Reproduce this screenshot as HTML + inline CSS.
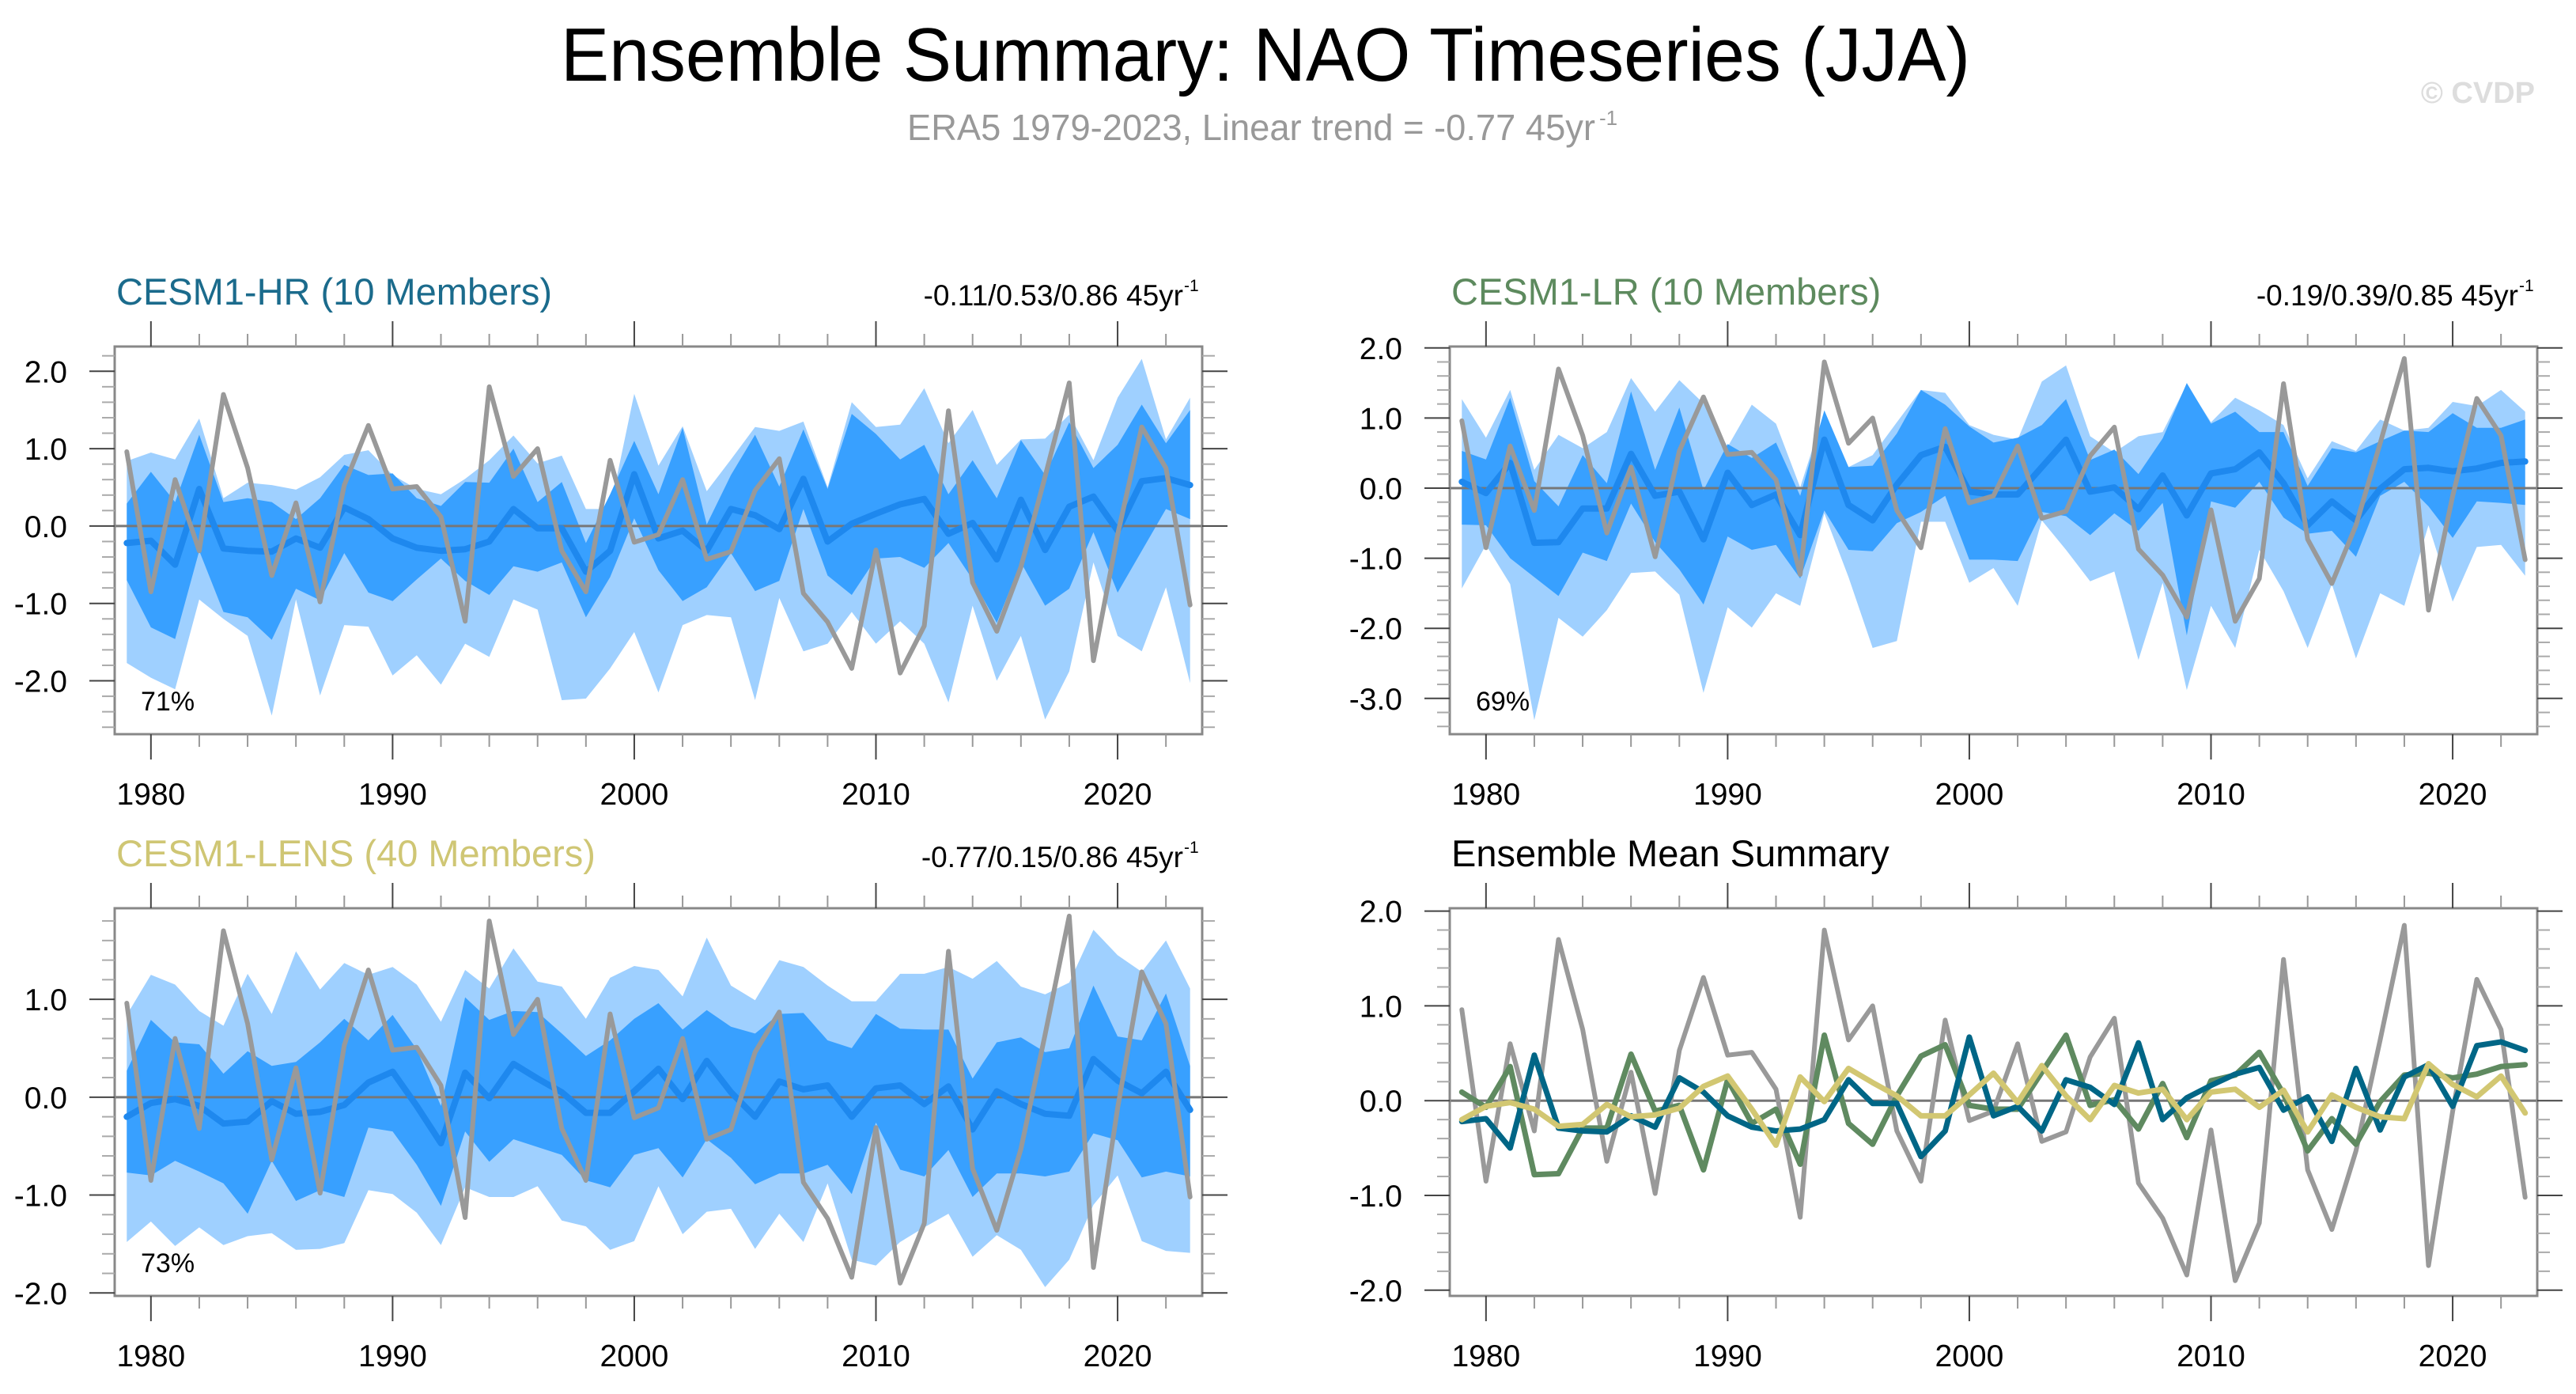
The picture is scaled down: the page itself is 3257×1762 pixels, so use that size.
<!DOCTYPE html>
<html><head><meta charset="utf-8"><style>
html,body{margin:0;padding:0;background:#fff;}
svg{display:block;font-family:"Liberation Sans",sans-serif;}
</style></head><body>
<svg id="chart" width="3257" height="1762" viewBox="0 0 3257 1762" xmlns="http://www.w3.org/2000/svg">
<text x="1600" y="102" font-size="96" text-anchor="middle" textLength="1782" lengthAdjust="spacingAndGlyphs" fill="#000">Ensemble Summary: NAO Timeseries (JJA)</text>
<text x="1147" y="177" font-size="46" fill="#999" textLength="870" lengthAdjust="spacingAndGlyphs">ERA5 1979-2023, Linear trend = -0.77 45yr</text>
<text x="2022" y="158" font-size="26" fill="#999">-1</text>
<text x="3205" y="130" font-size="38" fill="#ddd" font-weight="bold" text-anchor="end">© CVDP</text>
<g id="plots"></g>
</svg>
<script>
const years = [];
for (let y = 1979; y <= 2023; y++) years.push(y);
const era5 = [0.96,-0.85,0.60,-0.32,1.70,0.75,-0.64,0.30,-0.98,0.53,1.30,0.48,0.51,0.12,-1.23,1.80,0.64,1.00,-0.32,-0.85,0.85,-0.21,-0.11,0.60,-0.43,-0.33,0.46,0.87,-0.87,-1.24,-1.84,-0.31,-1.90,-1.29,1.49,-0.73,-1.36,-0.53,0.64,1.85,-1.74,-0.11,1.28,0.75,-1.02];
const hrMean = [-0.22,-0.19,-0.50,0.48,-0.29,-0.32,-0.33,-0.16,-0.28,0.24,0.09,-0.16,-0.28,-0.32,-0.30,-0.20,0.22,-0.03,-0.03,-0.59,-0.32,0.67,-0.16,-0.06,-0.32,0.22,0.14,-0.04,0.61,-0.20,0.03,0.16,0.28,0.35,-0.10,0.04,-0.43,0.34,-0.31,0.25,0.38,-0.06,0.58,0.62,0.53];
const hrUpLight = [0.84,0.95,0.86,1.39,0.36,0.56,0.53,0.47,0.63,0.92,0.98,0.66,0.48,0.41,0.61,0.85,1.17,0.81,0.91,0.22,0.22,1.71,0.78,1.29,0.45,0.86,1.28,1.23,1.35,0.50,1.60,1.28,1.31,1.78,1.07,1.50,0.79,1.12,1.13,1.44,0.85,1.66,2.16,1.12,1.66];
const hrUpDark = [0.29,0.70,0.31,1.18,0.31,0.36,0.31,0.09,0.36,0.79,0.66,0.68,0.36,0.26,0.57,0.56,1.00,0.31,0.57,-0.22,0.41,1.10,0.41,1.27,0.02,0.66,1.18,0.51,1.25,0.48,1.45,1.19,0.86,1.05,0.41,0.85,0.36,1.11,0.66,1.34,0.75,1.05,1.57,1.07,1.50];
const hrLoDark = [-0.70,-1.31,-1.46,-0.32,-1.11,-1.18,-1.47,-0.81,-0.96,-0.35,-0.86,-0.97,-0.69,-0.42,-0.71,-0.89,-0.52,-0.59,-0.47,-1.18,-0.66,0.10,-0.57,-0.97,-0.79,-0.35,-0.84,-0.71,0.22,-0.64,-0.89,-0.42,-0.40,-0.54,-0.22,-0.69,-1.25,-0.47,-1.03,-0.81,-0.08,-0.86,-0.32,0.22,0.09];
const hrLoLight = [-1.77,-1.96,-2.11,-0.95,-1.20,-1.42,-2.45,-0.95,-2.19,-1.28,-1.30,-1.93,-1.67,-2.05,-1.52,-1.69,-0.95,-1.08,-2.25,-2.23,-1.84,-1.37,-2.15,-1.28,-1.15,-1.18,-2.25,-0.93,-1.62,-1.52,-1.11,-1.52,-1.23,-1.52,-2.28,-1.03,-2.00,-1.42,-2.50,-1.88,-0.47,-1.42,-1.62,-0.79,-2.03];
const lrMean = [0.09,-0.07,0.36,-0.78,-0.77,-0.29,-0.29,0.49,-0.11,-0.05,-0.73,0.22,-0.24,-0.09,-0.67,0.69,-0.24,-0.46,0.05,0.47,0.59,-0.05,-0.09,-0.09,0.30,0.69,-0.05,0.01,-0.30,0.18,-0.39,0.21,0.27,0.51,0.07,-0.53,-0.19,-0.46,-0.01,0.27,0.29,0.24,0.28,0.36,0.38];
const lrUpLight = [1.27,0.72,1.40,0.26,0.76,0.57,0.80,1.57,1.09,1.54,1.21,0.59,1.19,0.92,0.01,1.09,0.30,0.47,0.94,1.40,1.36,0.90,0.76,0.69,1.52,1.75,0.74,0.51,0.74,0.80,1.48,0.94,1.29,1.11,0.90,0.14,0.67,0.53,0.98,0.82,0.86,1.23,1.17,1.40,1.09];
const lrUpDark = [0.53,0.41,1.29,0.10,-0.26,0.47,0.07,1.38,0.26,1.15,-0.03,0.63,0.43,0.65,-0.11,1.11,0.30,0.32,0.78,1.40,1.19,0.88,0.65,0.72,0.90,1.27,0.40,0.55,0.20,0.71,1.50,0.92,1.09,0.80,0.80,0.03,0.57,0.51,0.67,0.82,0.80,1.07,0.86,0.86,0.98];
const lrLoDark = [-0.52,-0.53,-1.00,-1.27,-1.54,-0.92,-1.04,-0.22,-0.77,-1.16,-1.66,-0.69,-0.88,-0.81,-1.29,-0.32,-0.88,-0.90,-0.50,-0.34,-0.11,-1.02,-1.02,-1.04,-0.34,-0.40,-0.67,-0.36,-0.61,-0.21,-2.10,-0.19,-0.28,0.09,-0.42,-0.65,-0.61,-0.98,-0.11,0.09,-0.26,-0.71,-0.19,-0.21,-0.24];
const lrLoLight = [-1.43,-0.81,-1.37,-3.31,-1.85,-2.12,-1.74,-1.21,-1.19,-1.52,-2.92,-1.70,-1.99,-1.50,-1.68,-0.36,-1.27,-2.28,-2.18,-0.48,-0.48,-1.35,-1.14,-1.68,-0.46,-0.88,-1.33,-1.19,-2.45,-1.35,-2.88,-1.68,-2.28,-0.88,-1.47,-2.28,-1.37,-2.43,-1.50,-1.68,-0.53,-1.62,-0.84,-0.81,-1.25];
const lensMean = [-0.20,-0.06,-0.02,-0.09,-0.27,-0.25,-0.04,-0.17,-0.15,-0.08,0.15,0.26,-0.09,-0.47,0.25,-0.01,0.34,0.19,0.05,-0.16,-0.16,0.06,0.29,-0.02,0.37,0.05,-0.20,0.16,0.08,0.12,-0.20,0.09,0.12,-0.07,0.11,-0.33,0.06,-0.07,-0.17,-0.19,0.39,0.17,0.04,0.26,-0.13];
const lensUpLight = [0.84,1.25,1.15,0.88,0.73,1.26,0.85,1.49,1.10,1.37,1.25,1.33,1.15,0.77,1.30,1.11,1.52,1.18,1.13,0.80,1.22,1.34,1.30,1.03,1.63,1.14,0.99,1.40,1.33,1.14,0.98,0.98,1.26,1.26,1.33,1.21,1.39,1.13,1.05,1.17,1.71,1.45,1.28,1.60,1.11];
const lensUpDark = [0.27,0.79,0.56,0.54,0.24,0.47,0.32,0.36,0.56,0.80,0.58,0.84,0.49,-0.09,1.02,0.79,0.88,0.87,0.65,0.42,0.58,0.80,0.96,0.69,0.89,0.72,0.65,0.85,0.86,0.58,0.50,0.85,0.70,0.69,0.69,0.19,0.56,0.61,0.46,0.50,1.14,0.62,0.58,1.06,0.32];
const lensLoDark = [-0.77,-0.80,-0.65,-0.76,-0.88,-1.19,-0.65,-1.06,-0.95,-1.02,-0.31,-0.35,-0.69,-1.11,-0.35,-0.66,-0.43,-0.51,-0.59,-0.85,-0.92,-0.59,-0.52,-0.82,-0.43,-0.62,-0.89,-0.78,-0.78,-0.69,-0.99,-0.26,-0.74,-0.81,-0.54,-1.02,-0.78,-0.78,-0.81,-0.76,-0.37,-0.44,-0.82,-0.76,-0.81];
const lensLoLight = [-1.48,-1.27,-1.52,-1.33,-1.51,-1.42,-1.39,-1.56,-1.55,-1.49,-0.95,-0.99,-1.18,-1.51,-0.92,-1.02,-1.02,-0.91,-1.26,-1.32,-1.56,-1.47,-0.91,-1.40,-1.17,-1.14,-1.55,-1.19,-1.48,-0.88,-1.66,-1.72,-1.48,-1.33,-1.19,-1.63,-1.41,-1.56,-1.94,-1.66,-1.10,-0.80,-1.47,-1.57,-1.59];
const xTickLabels = [1980,1990,2000,2010,2020];
const yTicksHR = [-2,-1,0,1,2];
const yTicksLR = [-3,-2,-1,0,1,2];
const yTicksLENS = [-2,-1,0,1];
const yTicksSum = [-2,-1,0,1,2];

const NS = 'http://www.w3.org/2000/svg';
const root = document.getElementById('plots');
function mk(tag, attrs, parent) {
  const e = document.createElementNS(NS, tag);
  for (const k in attrs) e.setAttribute(k, attrs[k]);
  (parent || root).appendChild(e);
  return e;
}
function panel(cfg) {
  const g = mk('g', {});
  
  
  const X = v => cfg.x0 + (v - 1978.5) / 45 * (cfg.x1 - cfg.x0);
  const Y = v => cfg.y0 + (cfg.ymax - v) / (cfg.ymax - cfg.ymin) * (cfg.y1 - cfg.y0);
  const clip = 'clip-' + cfg.name;
  const cp = mk('clipPath', {id: clip}, g);
  mk('rect', {x: cfg.x0, y: cfg.y0, width: cfg.x1 - cfg.x0, height: cfg.y1 - cfg.y0}, cp);
  const inner = mk('g', {'clip-path': 'url(#' + clip + ')'}, g);
  function band(up, lo, color, nm) {
    let d = 'M';
    up.forEach((v, i) => { d += X(years[i]).toFixed(1) + ',' + Y(v).toFixed(1) + ' L'; });
    for (let i = lo.length - 1; i >= 0; i--) d += X(years[i]).toFixed(1) + ',' + Y(lo[i]).toFixed(1) + (i ? ' L' : ' Z');
    const p = mk('path', {d: d, fill: color, stroke: 'none'}, inner);
    
    
  }
  function line(vals, color, w, nm) {
    const pts = vals.map((v, i) => X(years[i]).toFixed(1) + ',' + Y(v).toFixed(1)).join(' ');
    const p = mk('polyline', {points: pts, fill: 'none', stroke: color, 'stroke-width': w, 'stroke-linejoin': 'round', 'stroke-linecap': 'round'}, inner);
    
    
  }
  if (cfg.bands) {
    band(cfg.bands[0], cfg.bands[3], '#9fd0ff', 'light-spread-band');
    band(cfg.bands[1], cfg.bands[2], '#38a0ff', 'dark-spread-band');
  }
  const zl = mk('line', {x1: cfg.x0, x2: cfg.x1, y1: Y(0), y2: Y(0), stroke: '#777', 'stroke-width': 3}, inner);
  
  
  cfg.lines.forEach(l => line(l[0], l[1], l[2], l[3]));
  const box = mk('rect', {x: cfg.x0, y: cfg.y0, width: cfg.x1 - cfg.x0, height: cfg.y1 - cfg.y0, fill: 'none', stroke: '#888', 'stroke-width': 3}, g);
  
  
  for (let yr = 1980; yr <= 2022; yr += 2) {
    const major = yr % 10 === 0;
    const L = major ? 32 : 16;
    const c = major ? '#444' : '#999';
    mk('line', {x1: X(yr), x2: X(yr), y1: cfg.y0, y2: cfg.y0 - L, stroke: c, 'stroke-width': 2}, g);
    mk('line', {x1: X(yr), x2: X(yr), y1: cfg.y1, y2: cfg.y1 + L, stroke: c, 'stroke-width': 2}, g);
  }
  xTickLabels.forEach(yr => {
    const t = mk('text', {x: X(yr), y: cfg.y1 + 89, 'font-size': 39, 'text-anchor': 'middle', fill: '#000'}, g);
    t.textContent = yr;
    
    
  });
  for (let k = Math.ceil(cfg.ymin * 5); k <= Math.floor(cfg.ymax * 5); k++) {
    const v = k / 5;
    const major = k % 5 === 0;
    const L = major ? 32 : 16;
    const c = major ? '#444' : '#aaa';
    mk('line', {x1: cfg.x0, x2: cfg.x0 - L, y1: Y(v), y2: Y(v), stroke: c, 'stroke-width': 2}, g);
    mk('line', {x1: cfg.x1, x2: cfg.x1 + L, y1: Y(v), y2: Y(v), stroke: c, 'stroke-width': 2}, g);
  }
  cfg.yticks.forEach(v => {
    const t = mk('text', {x: cfg.x0 - 60, y: Y(v) + 14, 'font-size': 39, 'text-anchor': 'end', fill: '#000'}, g);
    t.textContent = v.toFixed(1);
    
    
  });
  const tt = mk('text', {x: cfg.x0 + 2, y: cfg.y0 - 53, 'font-size': 47, fill: cfg.titleColor}, g);
  tt.textContent = cfg.title;
  
  
  if (cfg.stats) {
    const st = mk('text', {x: cfg.x1 - 24, y: cfg.y0 - 52, 'font-size': 37, 'text-anchor': 'end', fill: '#000'}, g);
    st.textContent = cfg.stats;
    
    
    const sp = mk('text', {x: cfg.x1 - 23, y: cfg.y0 - 70, 'font-size': 21, fill: '#000'}, g);
    sp.textContent = '-1';
    
    
  }
  if (cfg.pct) {
    const pt = mk('text', {x: cfg.x0 + 33, y: cfg.y1 - 30, 'font-size': 34, fill: '#000'}, g);
    pt.textContent = cfg.pct;
    
    
  }
}
panel({name: 'cesm1-hr-panel', x0: 145, x1: 1520, y0: 438, y1: 928, ymin: -2.69, ymax: 2.32, yticks: yTicksHR,
  bands: [hrUpLight, hrUpDark, hrLoDark, hrLoLight],
  lines: [[hrMean, '#1e88ee', 8, 'ensemble-mean-line'], [era5, '#999', 6, 'era5-line']],
  title: 'CESM1-HR (10 Members)', titleColor: '#1b6b8c', stats: '-0.11/0.53/0.86 45yr', pct: '71%'});
panel({name: 'cesm1-lr-panel', x0: 1833, x1: 3208, y0: 438, y1: 928, ymin: -3.51, ymax: 2.02, yticks: yTicksLR,
  bands: [lrUpLight, lrUpDark, lrLoDark, lrLoLight],
  lines: [[lrMean, '#1e88ee', 8, 'ensemble-mean-line'], [era5, '#999', 6, 'era5-line']],
  title: 'CESM1-LR (10 Members)', titleColor: '#5d8a5e', stats: '-0.19/0.39/0.85 45yr', pct: '69%'});
panel({name: 'cesm1-lens-panel', x0: 145, x1: 1520, y0: 1148, y1: 1638, ymin: -2.03, ymax: 1.93, yticks: yTicksLENS,
  bands: [lensUpLight, lensUpDark, lensLoDark, lensLoLight],
  lines: [[lensMean, '#1e88ee', 8, 'ensemble-mean-line'], [era5, '#999', 6, 'era5-line']],
  title: 'CESM1-LENS (40 Members)', titleColor: '#cfc674', stats: '-0.77/0.15/0.86 45yr', pct: '73%'});
panel({name: 'ensemble-mean-summary-panel', x0: 1833, x1: 3208, y0: 1148, y1: 1638, ymin: -2.06, ymax: 2.03, yticks: yTicksSum,
  bands: null,
  lines: [[era5, '#999', 6, 'era5-line'], [lrMean, '#5f8a60', 7, 'cesm1-lr-mean-line'], [hrMean, '#006686', 7, 'cesm1-hr-mean-line'], [lensMean, '#d2c772', 7, 'cesm1-lens-mean-line']],
  title: 'Ensemble Mean Summary', titleColor: '#000', stats: null, pct: null});
</script>
</body></html>
